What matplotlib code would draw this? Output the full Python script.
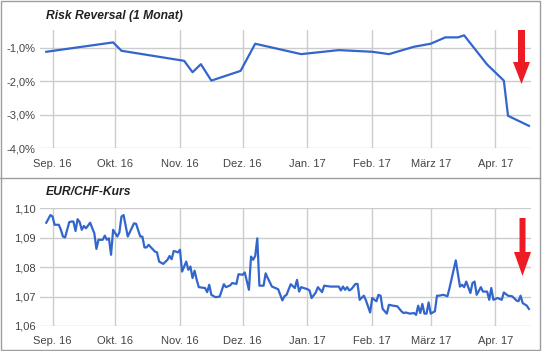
import matplotlib
matplotlib.use("Agg")
import matplotlib.pyplot as plt
from matplotlib.patches import Polygon, Rectangle
from matplotlib.lines import Line2D
from matplotlib.ticker import FuncFormatter
import pandas as pd

plt.rcParams['font.family'] = ['Liberation Sans', 'DejaVu Sans']

# Risk reversal (1 month), in percent
rr_dates = ["2016-08-29", "2016-09-30", "2016-10-04", "2016-11-03", "2016-11-07",
            "2016-11-11", "2016-11-16", "2016-11-30", "2016-12-07", "2016-12-29",
            "2017-01-16", "2017-02-01", "2017-02-09", "2017-02-21", "2017-03-01",
            "2017-03-08", "2017-03-14", "2017-03-17", "2017-03-28", "2017-04-05",
            "2017-04-07", "2017-04-17"]
rr_values = [-1.12, -0.84, -1.09, -1.39, -1.73, -1.49, -1.98, -1.69, -0.88, -1.19,
             -1.07, -1.12, -1.19, -0.97, -0.88, -0.69, -0.69, -0.63, -1.50, -1.98,
             -3.03, -3.33]

# EUR/CHF exchange rate
eur_dates = [
    "2016-08-29", "2016-08-31", "2016-09-01", "2016-09-02", "2016-09-04", "2016-09-05",
    "2016-09-06", "2016-09-07", "2016-09-09", "2016-09-10", "2016-09-11", "2016-09-12",
    "2016-09-13", "2016-09-14", "2016-09-15", "2016-09-16", "2016-09-17", "2016-09-19",
    "2016-09-21", "2016-09-22", "2016-09-23", "2016-09-25", "2016-09-26", "2016-09-27",
    "2016-09-28", "2016-09-29", "2016-09-30", "2016-10-02", "2016-10-03", "2016-10-04",
    "2016-10-05", "2016-10-07", "2016-10-10", "2016-10-11", "2016-10-13", "2016-10-14",
    "2016-10-15", "2016-10-16", "2016-10-17", "2016-10-18", "2016-10-20", "2016-10-21",
    "2016-10-22", "2016-10-24", "2016-10-26", "2016-10-27", "2016-10-28", "2016-10-29",
    "2016-10-30", "2016-10-31", "2016-11-01", "2016-11-02", "2016-11-03", "2016-11-04",
    "2016-11-05", "2016-11-06", "2016-11-07", "2016-11-08", "2016-11-09", "2016-11-10",
    "2016-11-13", "2016-11-14", "2016-11-15", "2016-11-16", "2016-11-18", "2016-11-20",
    "2016-11-22", "2016-11-23", "2016-11-25", "2016-11-26", "2016-11-28", "2016-11-29",
    "2016-12-01", "2016-12-02", "2016-12-04", "2016-12-05", "2016-12-06", "2016-12-07",
    "2016-12-08", "2016-12-09", "2016-12-11", "2016-12-12", "2016-12-13", "2016-12-15",
    "2016-12-17", "2016-12-18", "2016-12-20", "2016-12-21", "2016-12-22", "2016-12-24",
    "2016-12-26", "2016-12-27", "2016-12-28", "2016-12-29", "2017-01-01", "2017-01-02",
    "2017-01-03", "2017-01-05", "2017-01-06", "2017-01-08", "2017-01-09", "2017-01-12",
    "2017-01-14", "2017-01-16", "2017-01-17", "2017-01-18", "2017-01-19", "2017-01-20",
    "2017-01-21", "2017-01-22", "2017-01-24", "2017-01-25", "2017-01-26", "2017-01-28",
    "2017-01-29", "2017-01-31", "2017-02-01", "2017-02-03", "2017-02-04", "2017-02-05",
    "2017-02-06", "2017-02-08", "2017-02-09", "2017-02-11", "2017-02-13", "2017-02-15",
    "2017-02-16", "2017-02-17", "2017-02-19", "2017-02-21", "2017-02-22", "2017-02-23",
    "2017-02-24", "2017-02-25", "2017-02-26", "2017-02-27", "2017-02-28", "2017-03-01",
    "2017-03-03", "2017-03-04", "2017-03-05", "2017-03-07", "2017-03-09", "2017-03-10",
    "2017-03-13", "2017-03-15", "2017-03-16", "2017-03-17", "2017-03-18", "2017-03-20",
    "2017-03-21", "2017-03-22", "2017-03-23", "2017-03-25", "2017-03-26", "2017-03-28",
    "2017-03-29", "2017-03-30", "2017-03-31", "2017-04-02", "2017-04-04", "2017-04-05",
    "2017-04-07", "2017-04-09", "2017-04-11", "2017-04-12", "2017-04-13", "2017-04-14",
    "2017-04-16", "2017-04-17"]
eur_values = [
    1.0951, 1.0977, 1.0972, 1.0944, 1.0944, 1.0927,
    1.0904, 1.0901, 1.0953, 1.0955, 1.0955, 1.0923,
    1.0963, 1.0953, 1.0927, 1.0940, 1.0932, 1.0951,
    1.0915, 1.0862, 1.0893, 1.0893, 1.0907, 1.0893,
    1.0898, 1.0842, 1.0927, 1.0904, 1.0918, 1.0972,
    1.0977, 1.0904, 1.0949, 1.0947, 1.0904, 1.0904,
    1.0867, 1.0867, 1.0876, 1.0868, 1.0853, 1.0850,
    1.0819, 1.0811, 1.0825, 1.0838, 1.0827, 1.0855,
    1.0853, 1.0850, 1.0859, 1.0785, 1.0802, 1.0819,
    1.0791, 1.0802, 1.0763, 1.0788, 1.0757, 1.0732,
    1.0729, 1.0715, 1.0740, 1.0706, 1.0698, 1.0700,
    1.0742, 1.0732, 1.0738, 1.0746, 1.0743, 1.0776,
    1.0774, 1.0782, 1.0723, 1.0836, 1.0825, 1.0838,
    1.0898, 1.0737, 1.0737, 1.0779, 1.0763, 1.0734,
    1.0728, 1.0725, 1.0687, 1.0701, 1.0706, 1.0742,
    1.0729, 1.0757, 1.0717, 1.0732, 1.0725, 1.0721,
    1.0695, 1.0714, 1.0732, 1.0715, 1.0737, 1.0734,
    1.0734, 1.0734, 1.0721, 1.0734, 1.0723, 1.0732,
    1.0721, 1.0725, 1.0743, 1.0743, 1.0689, 1.0703,
    1.0687, 1.0646, 1.0695, 1.0684, 1.0706, 1.0703,
    1.0658, 1.0642, 1.0672, 1.0669, 1.0667, 1.0650,
    1.0644, 1.0646, 1.0642, 1.0644, 1.0638, 1.0669,
    1.0644, 1.0675, 1.0642, 1.0642, 1.0680, 1.0642,
    1.0650, 1.0703, 1.0703, 1.0706, 1.0701, 1.0729,
    1.0823, 1.0734, 1.0740, 1.0732, 1.0751, 1.0712,
    1.0746, 1.0751, 1.0706, 1.0732, 1.0717, 1.0717,
    1.0689, 1.0729, 1.0689, 1.0695, 1.0689, 1.0714,
    1.0703, 1.0701, 1.0687, 1.0684, 1.0703, 1.0678,
    1.0669, 1.0658]

month_ticks = ["2016-09-01", "2016-10-01", "2016-11-01", "2016-12-01",
               "2017-01-01", "2017-02-01", "2017-03-01", "2017-04-01"]
month_labels = ["Sep. 16", "Okt. 16", "Nov. 16", "Dez. 16",
                "Jan. 17", "Feb. 17", "März 17", "Apr. 17"]

W, H = 543, 351
fig = plt.figure(figsize=(W / 100, H / 100), dpi=100)
fig.patch.set_facecolor("white")


def px_axes(l, t, r, b):
    return fig.add_axes([l / W, 1 - b / H, (r - l) / W, (b - t) / H])


def fig_xy(x, y):
    return (x / W, 1 - y / H)


line_color = "#3366CC"
grid_color = "#CCCCCC"
text_color = "#444444"
xmin, xmax = pd.Timestamp("2016-08-26"), pd.Timestamp("2017-04-18")


def style_axes(ax):
    ax.set_xlim(xmin, xmax)
    ax.set_xticks(pd.to_datetime(month_ticks))
    ax.set_xticklabels(month_labels)
    for s in ax.spines.values():
        s.set_visible(False)
    ax.grid(True, color=grid_color, linewidth=1)
    ax.set_axisbelow(True)
    ax.tick_params(length=0, labelsize=8, colors=text_color)
    ax.tick_params(axis="x", pad=7.5)
    ax.tick_params(axis="y", pad=3)
    ax.set_facecolor("none")


# top panel
ax1 = px_axes(40, 30, 531, 148.3)
ax1.plot(pd.to_datetime(rr_dates), rr_values, color=line_color, linewidth=1.6)
style_axes(ax1)
ax1.set_ylim(-4.0, -0.47)
ax1.set_yticks([-1.0, -2.0, -3.0, -4.0])
ax1.yaxis.set_major_formatter(FuncFormatter(lambda v, p: ("%.1f%%" % v).replace(".", ",")))

# bottom panel
ax2 = px_axes(40, 208.3, 531, 326)
ax2.plot(pd.to_datetime(eur_dates), eur_values, color=line_color, linewidth=1.6)
style_axes(ax2)
ax2.set_ylim(1.06, 1.10)
ax2.set_yticks([1.06, 1.07, 1.08, 1.09, 1.10])
ax2.yaxis.set_major_formatter(FuncFormatter(lambda v, p: ("%.2f" % v).replace(".", ",")))

# titles
fig.text(*fig_xy(46, 16), "Risk Reversal (1 Monat)", fontsize=8.7, fontweight="bold",
         fontstyle="italic", color="#222222", va="center", ha="left")
fig.text(*fig_xy(46, 192), "EUR/CHF-Kurs", fontsize=8.7, fontweight="bold",
         fontstyle="italic", color="#222222", va="center", ha="left")

# panel borders
border = "#9E9E9E"
fig.add_artist(Rectangle(fig_xy(0.5, 349.5), (540 - 0.5) / W, (349.5 - 0.5) / H,
                         transform=fig.transFigure, fill=False, edgecolor=border, linewidth=1))
fig.add_artist(Line2D([0, 540 / W], [1 - 178 / H] * 2, transform=fig.transFigure,
                      color=border, linewidth=1))

# red arrows
red = "#ED1C24"
for (sx0, sx1, top, head_y, hx0, hx1, tip_x, tip_y) in [
        (518, 525, 30, 62, 513, 530, 521.5, 84),
        (519.5, 525.5, 218, 252, 514, 531, 522.5, 276)]:
    pts = [fig_xy(sx0, top), fig_xy(sx1, top), fig_xy(sx1, head_y), fig_xy(hx1, head_y),
           fig_xy(tip_x, tip_y), fig_xy(hx0, head_y), fig_xy(sx0, head_y)]
    fig.add_artist(Polygon(pts, closed=True, transform=fig.transFigure,
                           facecolor=red, edgecolor="none"))

fig.savefig("out.png", dpi=100)
